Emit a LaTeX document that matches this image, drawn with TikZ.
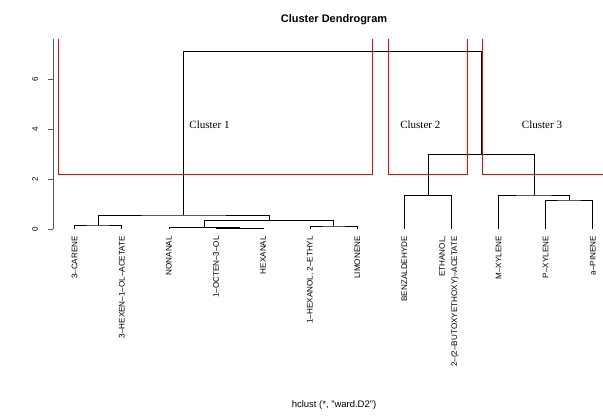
\documentclass[tikz,border=0pt]{standalone}
\usepackage{fontspec}
\setmainfont{Liberation Serif}
\setsansfont{Liberation Sans}
\begin{document}
\begin{tikzpicture}[x=1pt,y=-1pt,
  tree/.style={draw=black,line width=0.75pt},
  box/.style={draw=red,line width=0.8pt},
  axisline/.style={draw=black!65,line width=0.9pt},
  leaflab/.style={font=\sffamily\fontsize{8.1}{12.3}\selectfont,rotate=90,anchor=east,inner sep=0pt,align=right},
  ticklab/.style={font=\sffamily\fontsize{8}{9}\selectfont,rotate=90,inner sep=0pt},
  clab/.style={font=\rmfamily\fontsize{11}{13}\selectfont,inner sep=0pt}]
\useasboundingbox (0,0) rectangle (603,419);
% title and x label
\node[font=\sffamily\bfseries\fontsize{11}{13}\selectfont] (title) at (334,20) {Cluster Dendrogram};
\node[font=\sffamily\fontsize{9.5}{11}\selectfont] (xlab) at (334,405) {hclust (*, "ward.D2")};
% y axis
\draw[axisline] (53,39) -- (53,229);
\foreach \h/\y in {0/229,2/179.2,4/129.4,6/79.6}{
  \draw[axisline] (53,\y) -- (48,\y);
  \node[ticklab] (t\h) at (35,\y) {\h};
}
% leaves
\coordinate (L1) at (74.7,229);
\coordinate (L2) at (121.8,229);
\coordinate (L3) at (168.9,229);
\coordinate (L4) at (216.0,229);
\coordinate (L5) at (263.1,229);
\coordinate (L6) at (310.2,229);
\coordinate (L7) at (357.3,229);
\coordinate (L8) at (404.4,229);
\coordinate (L9) at (451.5,229);
\coordinate (L10) at (498.6,229);
\coordinate (L11) at (545.7,229);
\coordinate (L12) at (592.8,229);
% merges
\coordinate (A) at (98.25,225);
\coordinate (B) at (239.55,227.9);
\coordinate (C) at (204.2,227.2);
\coordinate (D) at (333.75,226);
\coordinate (E) at (268.98,220.7);
\coordinate (F) at (183.6,215);
\coordinate (G) at (427.95,195.7);
\coordinate (H) at (569.25,200);
\coordinate (I) at (533.9,195);
\coordinate (J) at (480.9,154.3);
\coordinate (K) at (332.3,51.3);
\draw[tree] (L1) |- (A) -| (L2);
\draw[tree] (L4) |- (B) -| (L5);
\draw[tree] (L3) |- (C) -| (B);
\draw[tree] (L6) |- (D) -| (L7);
\draw[tree] (C) |- (E) -| (D);
\draw[tree] (A) |- (F) -| (E);
\draw[tree] (L8) |- (G) -| (L9);
\draw[tree] (L11) |- (H) -| (L12);
\draw[tree] (L10) |- (I) -| (H);
\draw[tree] (G) |- (J) -| (I);
\draw[tree] (F) |- (K) -| (J);
% leaf labels
\node[leaflab] (n1) at (74.7,236) {3–CARENE};
\node[leaflab] (n2) at (121.8,236) {3–HEXEN–1–OL–ACETATE};
\node[leaflab] (n3) at (168.9,236) {NONANAL};
\node[leaflab] (n4) at (216.0,236) {1–OCTEN–3–OL};
\node[leaflab] (n5) at (263.1,236) {HEXANAL};
\node[leaflab] (n6) at (310.2,236) {1–HEXANOL, 2–ETHYL};
\node[leaflab] (n7) at (357.3,236) {LIMONENE};
\node[leaflab] (n8) at (404.4,236) {BENZALDEHYDE};
\node[leaflab] (n9) at (449,236) {ETHANOL,\\2–(2–BUTOXYETHOXY)–ACETATE};
\node[leaflab] (n10) at (498.6,236) {M–XYLENE};
\node[leaflab] (n11) at (545.7,236) {P–XYLENE};
\node[leaflab] (n12) at (592.8,236) {a–PINENE};
% cluster rectangles
\draw[box] (58.7,39) -- (58.7,174.3) -- (372.7,174.3) -- (372.7,39);
\draw[box] (388.7,39) -- (388.7,174.3) -- (467,174.3) -- (467,39);
\draw[box] (482.7,39) -- (482.7,174.3) -- (603,174.3);
% cluster labels
\node[clab] (c1) at (209.5,125) {Cluster 1};
\node[clab] (c2) at (420.3,124.5) {Cluster 2};
\node[clab] (c3) at (542,125) {Cluster 3};
\end{tikzpicture}
\end{document}
